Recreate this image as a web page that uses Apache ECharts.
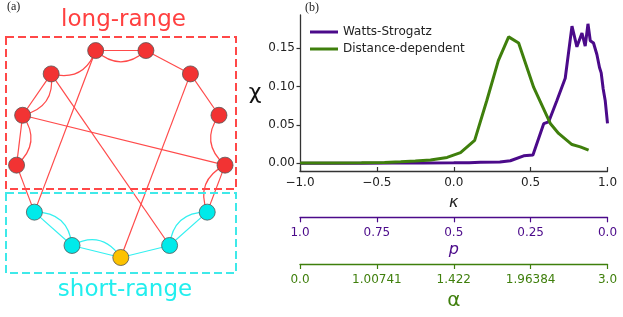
<!DOCTYPE html>
<html><head><meta charset="utf-8">
<script src="https://cdn.jsdelivr.net/npm/echarts@6/dist/echarts.min.js"></script>
<style>html,body{margin:0;padding:0;background:#fff}#c{width:623px;height:317px}</style>
</head><body><div id="c"></div>
<script>
// ---- data ----
const wsKappa = [-1.0, -0.8, -0.6, -0.4, -0.2, 0.0, 0.1, 0.173, 0.3, 0.368, 0.455, 0.515, 0.585, 0.617, 0.671, 0.725, 0.769, 0.801, 0.834, 0.855, 0.873, 0.888, 0.909, 0.931, 0.948, 0.959, 0.972, 0.985, 1.0];
const wsChi   = [0.0, 0.0, 0.0002, 0.0003, 0.0005, 0.0007, 0.0009, 0.0013, 0.0018, 0.0034, 0.0098, 0.011, 0.0517, 0.054, 0.082, 0.111, 0.179, 0.152, 0.170, 0.153, 0.182, 0.160, 0.157, 0.142, 0.125, 0.118, 0.097, 0.082, 0.052];
const ddKappa = [-1.0, -0.8, -0.6, -0.45, -0.345, -0.25, -0.151, -0.043, 0.044, 0.136, 0.215, 0.29, 0.357, 0.422, 0.52, 0.628, 0.682, 0.769, 0.823, 0.877];
const ddChi   = [0.0003, 0.0004, 0.0006, 0.0010, 0.0020, 0.0030, 0.0043, 0.0077, 0.014, 0.030, 0.082, 0.134, 0.165, 0.157, 0.099, 0.052, 0.039, 0.0245, 0.0215, 0.0172];
const yTicks = [0, 0.05, 0.10, 0.15];
const pLabels = ['1.0', '0.75', '0.5', '0.25', '0.0'];
const alphaLabels = ['0.0', '1.00741', '1.422', '1.96384', '3.0'];
const seriesNames = ['Watts-Strogatz', 'Distance-dependent'];

// network (panel a): node i sits at ring position i, clockwise from the bottom
const nodeGroups = ['seed', 'short', 'short', 'long', 'long', 'long', 'long', 'long', 'long', 'long', 'long', 'short', 'short'];
const ringLinks = [[0,1],[1,2],[2,3],[3,4],[4,5],[6,7],[7,8],[8,9],[10,11],[11,12],[12,0]];
const arcLinks  = [[0,1],[1,2],[3,4],[4,5],[5,6],[6,7],[9,10],[10,11],[11,12]];
const longLinks = [[2,6],[5,12],[4,10],[0,8]];

// ---- styles ----
const PURPLE = '#4b0a8a', GREEN = '#3f7f0c';
const RED = '#f23333', CYAN = '#00eaea', GOLD = '#fcc200';
const EDGE_RED = '#ff4a4a', EDGE_CYAN = '#33f0f0';
const FONT = 'DejaVu Sans';
const nodeColor = { seed: GOLD, short: CYAN, long: RED };

function isShort(i) { return nodeGroups[i] !== 'long'; }
function mkLink(pair, curv) {
  const [a, b] = pair;
  const col = (isShort(a) && isShort(b)) ? EDGE_CYAN : EDGE_RED;
  return { source: 'n' + a, target: 'n' + b, lineStyle: { color: col, curveness: curv, width: 1.2 } };
}
const links = [].concat(
  ringLinks.map(p => mkLink(p, 0)),
  arcLinks.map(p => mkLink(p, -0.45)),
  longLinks.map(p => mkLink(p, 0))
);

const chart = echarts.init(document.getElementById('c'), null, { renderer: 'canvas' });
const axisCol = '#333';
chart.setOption({
  animation: false,
  textStyle: { fontFamily: FONT },
  polar: { center: [120.8, 152.5], radius: 105 },
  angleAxis: { type: 'value', min: 0, max: 13, startAngle: -90, clockwise: true,
    axisLine: { show: false }, axisTick: { show: false }, axisLabel: { show: false }, splitLine: { show: false } },
  radiusAxis: { type: 'value', min: 0, max: 1,
    axisLine: { show: false }, axisTick: { show: false }, axisLabel: { show: false }, splitLine: { show: false } },
  grid: { left: 300, right: 15.5, top: 15, bottom: 146, containLabel: false },
  legend: {
    data: seriesNames, orient: 'vertical', left: 310, top: 26, padding: 0,
    itemWidth: 28, itemHeight: 3, itemGap: 5, icon: 'rect',
    textStyle: { fontSize: 12, color: '#222', fontFamily: FONT }
  },
  xAxis: [
    { type: 'value', min: -1, max: 1, interval: 0.5, gridIndex: 0,
      axisLine: { onZero: false, lineStyle: { color: axisCol, width: 1.3 } },
      axisTick: { inside: true, length: 4, lineStyle: { color: axisCol, width: 1.2 } },
      splitLine: { show: false },
      axisLabel: { margin: 6, fontSize: 12, color: '#222', fontFamily: FONT,
        formatter: v => (v < 0 ? '\u2212' : '') + Math.abs(v).toFixed(1) },
      name: 'κ', nameLocation: 'middle', nameGap: 24,
      nameTextStyle: { fontSize: 16, fontStyle: 'italic', color: '#222', fontFamily: FONT } },
    { type: 'value', min: 0, max: 4, interval: 1, gridIndex: 0, position: 'bottom', offset: 46.3,
      axisLine: { onZero: false, lineStyle: { color: PURPLE, width: 1.3 } },
      axisTick: { length: 5, lineStyle: { color: PURPLE, width: 1.2 } },
      splitLine: { show: false },
      axisLabel: { margin: 9.5, fontSize: 12, color: PURPLE, fontFamily: FONT, formatter: v => pLabels[v] },
      name: 'p', nameLocation: 'middle', nameGap: 25,
      nameTextStyle: { fontSize: 16, fontStyle: 'italic', color: PURPLE, fontFamily: FONT } },
    { type: 'value', min: 0, max: 4, interval: 1, gridIndex: 0, position: 'bottom', offset: 93,
      axisLine: { onZero: false, lineStyle: { color: GREEN, width: 1.3 } },
      axisTick: { length: 5, lineStyle: { color: GREEN, width: 1.2 } },
      splitLine: { show: false },
      axisLabel: { margin: 9.5, fontSize: 12, color: GREEN, fontFamily: FONT, formatter: v => alphaLabels[v] },
      name: 'α', nameLocation: 'middle', nameGap: 27,
      nameTextStyle: { fontSize: 20, color: GREEN, fontFamily: FONT } }
  ],
  yAxis: [
    { type: 'value', min: -0.01, max: 0.1935, gridIndex: 0, position: 'left',
      axisLine: { show: true, onZero: false, lineStyle: { color: axisCol, width: 1.3 } },
      axisTick: { show: true, length: 3.5, customValues: yTicks, lineStyle: { color: axisCol, width: 1.2 } },
      splitLine: { show: false },
      axisLabel: { margin: 5, fontSize: 12, color: '#222', fontFamily: FONT, customValues: yTicks,
        formatter: v => v.toFixed(2) } }
  ],
  graphic: [
    { type: 'rect', shape: { x: 6, y: 37, width: 230, height: 152 }, z: 100,
      style: { fill: 'none', stroke: '#ff4848', lineWidth: 2, lineDash: [8, 4] } },
    { type: 'rect', shape: { x: 6, y: 193, width: 230, height: 80 }, z: 100,
      style: { fill: 'none', stroke: '#3fe9e9', lineWidth: 2, lineDash: [8, 4] } },
    { type: 'text', x: 123.5, y: 20, z: 100,
      style: { text: 'long-range', fill: '#ff4040', fontSize: 23, fontFamily: FONT, align: 'center', verticalAlign: 'middle' } },
    { type: 'text', x: 125, y: 290, z: 100,
      style: { text: 'short-range', fill: '#22eeee', fontSize: 23, fontFamily: FONT, align: 'center', verticalAlign: 'middle' } },
    { type: 'text', x: 7, y: 7, z: 100,
      style: { text: '(a)', fill: '#222', fontSize: 12, fontFamily: 'Liberation Serif', align: 'left', verticalAlign: 'middle' } },
    { type: 'text', x: 305, y: 7.5, z: 100,
      style: { text: '(b)', fill: '#222', fontSize: 12, fontFamily: 'Liberation Serif', align: 'left', verticalAlign: 'middle' } },
    { type: 'text', x: 255, y: 93, z: 100,
      style: { text: 'χ', fill: '#111', fontSize: 22, fontFamily: FONT, align: 'center', verticalAlign: 'middle' } }
  ],
  series: [
    { type: 'graph', coordinateSystem: 'polar', polarIndex: 0, symbolSize: 16,
      data: nodeGroups.map((g, i) => ({ name: 'n' + i, value: [1, i], itemStyle: { color: nodeColor[g] } })),
      links: links,
      itemStyle: { borderColor: '#555', borderWidth: 0.8 },
      lineStyle: { width: 1.2, opacity: 1 },
      label: { show: false }, emphasis: { disabled: true }, silent: true },
    { name: seriesNames[0], type: 'line', xAxisIndex: 0, yAxisIndex: 0, showSymbol: false, symbol: 'none',
      data: wsKappa.map((k, i) => [k, wsChi[i]]),
      itemStyle: { color: PURPLE }, lineStyle: { color: PURPLE, width: 3 }, z: 3 },
    { name: seriesNames[1], type: 'line', xAxisIndex: 0, yAxisIndex: 0, showSymbol: false, symbol: 'none',
      data: ddKappa.map((k, i) => [k, ddChi[i]]),
      itemStyle: { color: GREEN }, lineStyle: { color: GREEN, width: 3 }, z: 4 }
  ]
});
</script>
</body></html>
